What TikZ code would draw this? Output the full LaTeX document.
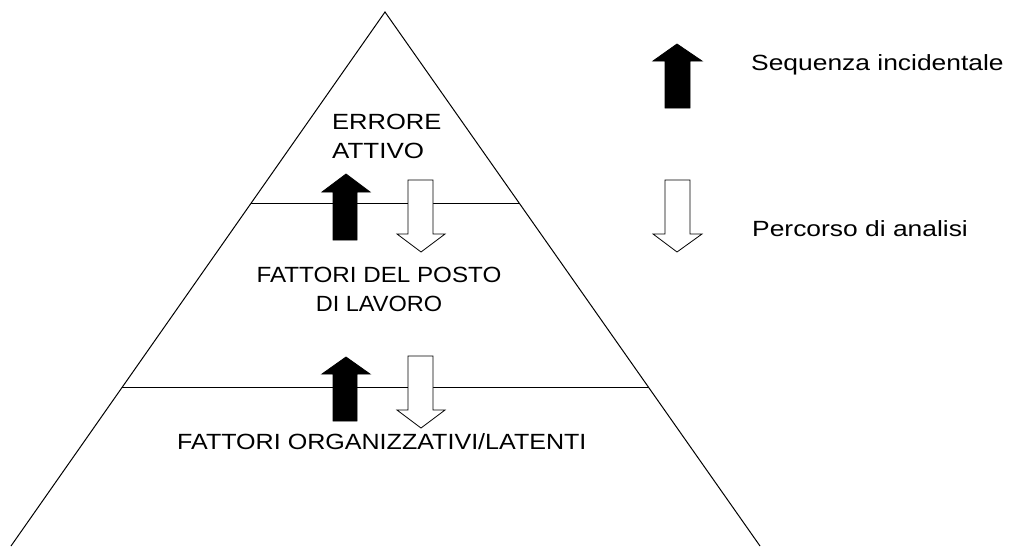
\documentclass[tikz,border=0pt]{standalone}
\usepackage{fontspec}
\setmainfont{Liberation Sans}
\usetikzlibrary{calc}
\newcommand{\hstretch}[2]{\scalebox{#1}[1]{#2}}
\begin{document}
\begin{tikzpicture}[x=1pt,y=-1pt,
  edge/.style={draw=black,line width=1pt},
  uparrow/.style={fill=black,draw=black,line width=0.8pt,line join=miter},
  downarrow/.style={fill=white,draw=black,line width=0.8pt,line join=miter},
  lbl/.style={inner sep=0pt,anchor=base west,font=\fontsize{22}{29}\selectfont},
  clbl/.style={inner sep=0pt,anchor=base,font=\fontsize{22}{29}\selectfont}]
\useasboundingbox (0,0) rectangle (1009,546);
% pyramid
\coordinate (apex) at (385,12);
\coordinate (bl) at (11,546);
\coordinate (br) at (760,546);
\draw[edge] (bl) -- (apex) -- (br);
\coordinate (l1) at ($(apex)!0.3577!(bl)$);
\coordinate (r1) at ($(apex)!0.3577!(br)$);
\coordinate (l2) at ($(apex)!0.7041!(bl)$);
\coordinate (r2) at ($(apex)!0.7041!(br)$);
\draw[edge] (l1) -- (r1);
\draw[edge] (l2) -- (r2);
% arrows level 1
\filldraw[uparrow] (346,174) -- (370,192) -- (357,192) -- (357,240) -- (333,240) -- (333,192) -- (322,192) -- cycle;
\filldraw[downarrow] (408,180) -- (433,180) -- (433,234) -- (445,234) -- (421,252) -- (397,234) -- (408,234) -- cycle;
% arrows level 2
\filldraw[uparrow] (346,357) -- (370,374) -- (357,374) -- (357,421) -- (333,421) -- (333,374) -- (322,374) -- cycle;
\filldraw[downarrow] (408,356) -- (433,356) -- (433,410) -- (445,410) -- (421,428) -- (397,410) -- (408,410) -- cycle;
% legend arrows
\filldraw[uparrow] (677,44) -- (702,61) -- (690,61) -- (690,108) -- (665,108) -- (665,61) -- (653,61) -- cycle;
\filldraw[downarrow] (665,180) -- (690,180) -- (690,234) -- (702,234) -- (677,252) -- (653,234) -- (665,234) -- cycle;
% texts
\node[lbl] (t1a) at (332,129) {\hstretch{1.16}{ERRORE}};
\node[lbl] (t1b) at (332,158) {\hstretch{1.18}{ATTIVO}};
\node[clbl] (t2a) at (379,282) {\hstretch{1.10}{FATTORI DEL POSTO}};
\node[clbl] (t2b) at (379,311) {\hstretch{1.07}{DI LAVORO}};
\node[lbl] (t3) at (177,449) {\hstretch{1.14}{FATTORI ORGANIZZATIVI/LATENTI}};
\node[lbl] (leg1) at (751,70) {\hstretch{1.2}{Sequenza incidentale}};
\node[lbl] (leg2) at (752,236) {\hstretch{1.2}{Percorso di analisi}};
\end{tikzpicture}
\end{document}
